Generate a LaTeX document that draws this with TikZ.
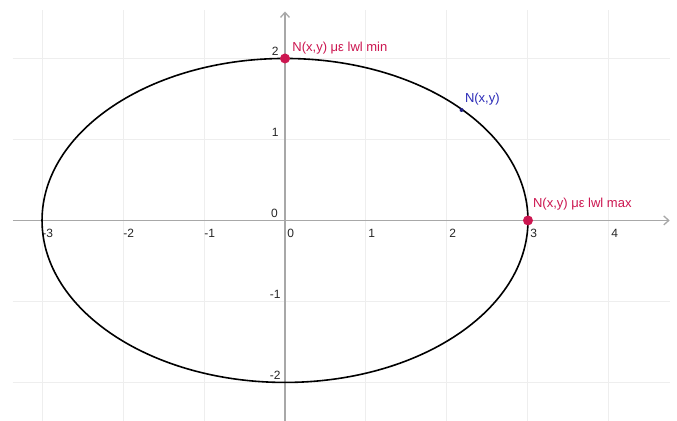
\documentclass[tikz,border=0pt]{standalone}
\usepackage{fontspec}
\setmainfont{Liberation Sans}
\usetikzlibrary{arrows.meta}
\definecolor{ptred}{HTML}{CC1650}
\definecolor{ptblue}{HTML}{2B2BB8}
\definecolor{axisgray}{HTML}{A8A8A8}
\definecolor{gridgray}{HTML}{EEEEEE}
\tikzset{
  axisline/.style={draw=axisgray, line width=1.3pt, -{Straight Barb[length=5pt,width=9pt]}},
  gridline/.style={draw=gridgray, line width=1pt},
  ticklab/.style={font=\fontsize{12}{14}\selectfont, text=black!85, inner sep=0pt},
  redpt/.style={circle, fill=ptred, minimum size=10pt, inner sep=0pt},
  bluept/.style={circle, fill=ptblue!70!black, minimum size=4pt, inner sep=0pt},
  redlab/.style={font=\fontsize{13}{15}\selectfont, text=ptred, inner sep=0pt},
  bluelab/.style={font=\fontsize{13}{15}\selectfont, text=ptblue, inner sep=0pt},
}
\begin{document}
\begin{tikzpicture}[x=81pt,y=81pt]
\useasboundingbox[fill=white] (-3.519,-2.475) rectangle (4.840,2.722);
% grid
\foreach \k in {-3,-2,-1,1,2,3,4}{
  \draw[gridline] (\k,-2.475) -- (\k,2.6);
}
\foreach \k in {-2,-1,1,2}{
  \draw[gridline] (-3.36,\k) -- (4.75,\k);
}
% axes
\coordinate (xs) at (-3.36,0);
\coordinate (xe) at (4.75,0);
\coordinate (ys) at (0,-2.475);
\coordinate (ye) at (0,2.58);
\draw[axisline] (xs) -- (xe);
\draw[axisline] (ys) -- (ye);
% tick labels x
\foreach \k in {-3,-2,-1,0,1,2,3,4}{
  \node[ticklab] (xl\k) at (\k+0.07,-0.155) {\k};
}
% tick labels y
\foreach \k in {-2,-1,1,2}{
  \node[ticklab] (yl\k) at (-0.12,\k+0.09) {\k};
}
\node[ticklab] (yl0) at (-0.13,0.09) {0};
% ellipse
\draw[black, line width=1.6pt] (0,0) ellipse [x radius=3, y radius=2];
% points
\node[redpt] (pmin) at (0,2) {};
\node[redpt] (pmax) at (3,0) {};
\node[bluept] (pn) at (2.18,1.364) {};
% labels
\node[redlab, anchor=south west] (lmin) at (0.09,2.05) {N(x,y) με lwl min};
\node[redlab, anchor=south west] (lmax) at (3.06,0.12) {N(x,y) με lwl max};
\node[bluelab, anchor=south west] (ln) at (2.22,1.42) {N(x,y)};
\end{tikzpicture}
\end{document}
